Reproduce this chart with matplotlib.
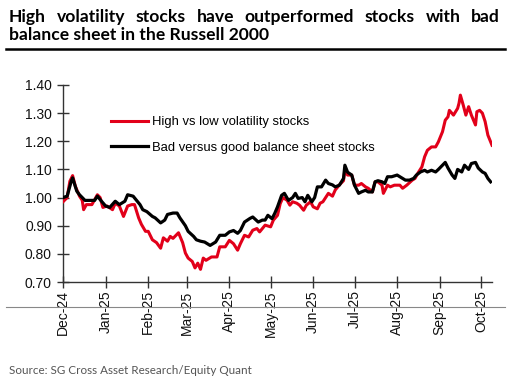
import matplotlib
matplotlib.use("Agg")
import matplotlib.pyplot as plt
import matplotlib.dates as mdates
import pandas as pd
from matplotlib.lines import Line2D

title_line1 = "High volatility stocks have outperformed stocks with bad"
title_line2 = "balance sheet in the Russell 2000"
source_text = "Source: SG Cross Asset Research/Equity Quant"
label_red = "High vs low volatility stocks"
label_black = "Bad versus good balance sheet stocks"

red_dates = ["2024-12-01", "2024-12-04", "2024-12-06", "2024-12-08", "2024-12-10", "2024-12-13",
             "2024-12-15", "2024-12-16", "2024-12-18", "2024-12-22", "2024-12-26", "2024-12-28",
             "2024-12-30", "2025-01-02", "2025-01-06", "2025-01-08", "2025-01-11", "2025-01-14",
             "2025-01-17", "2025-01-20", "2025-01-22", "2025-01-25", "2025-01-27", "2025-01-30",
             "2025-02-01", "2025-02-04", "2025-02-07", "2025-02-10", "2025-02-12", "2025-02-15",
             "2025-02-17", "2025-02-19", "2025-02-23", "2025-02-26", "2025-02-28", "2025-03-02",
             "2025-03-05", "2025-03-07", "2025-03-09", "2025-03-11", "2025-03-13", "2025-03-15",
             "2025-03-19", "2025-03-23", "2025-03-25", "2025-03-29", "2025-04-01", "2025-04-04",
             "2025-04-07", "2025-04-09", "2025-04-12", "2025-04-15", "2025-04-18", "2025-04-21",
             "2025-04-23", "2025-04-27", "2025-05-01", "2025-05-03", "2025-05-06", "2025-05-08",
             "2025-05-10", "2025-05-13", "2025-05-15", "2025-05-17", "2025-05-20", "2025-05-22",
             "2025-05-25", "2025-05-27", "2025-05-30", "2025-06-01", "2025-06-04", "2025-06-06",
             "2025-06-08", "2025-06-12", "2025-06-15", "2025-06-17", "2025-06-20", "2025-06-23",
             "2025-06-24", "2025-06-26", "2025-06-29", "2025-07-01", "2025-07-04", "2025-07-06",
             "2025-07-09", "2025-07-11", "2025-07-14", "2025-07-16", "2025-07-18", "2025-07-21",
             "2025-07-22", "2025-07-25", "2025-07-27", "2025-07-30", "2025-08-03", "2025-08-05",
             "2025-08-08", "2025-08-12", "2025-08-14", "2025-08-16", "2025-08-19", "2025-08-21",
             "2025-08-23", "2025-08-26", "2025-08-29", "2025-08-31", "2025-09-03", "2025-09-05",
             "2025-09-07", "2025-09-08", "2025-09-11", "2025-09-14", "2025-09-15", "2025-09-16",
             "2025-09-18", "2025-09-20", "2025-09-22", "2025-09-24", "2025-09-27", "2025-09-28",
             "2025-09-30", "2025-10-02", "2025-10-04", "2025-10-06", "2025-10-07", "2025-10-09"]
red_values = [0.985, 1.000, 1.058, 1.078, 1.040, 1.005,
              0.990, 0.957, 0.975, 0.975, 1.010, 1.000,
              0.965, 0.970, 0.957, 0.980, 0.970, 0.933,
              0.970, 0.975, 0.975, 0.928, 0.905, 0.880,
              0.880, 0.850, 0.840, 0.820, 0.857, 0.845,
              0.862, 0.855, 0.875, 0.840, 0.803, 0.785,
              0.773, 0.750, 0.767, 0.745, 0.785, 0.777,
              0.789, 0.789, 0.825, 0.825, 0.848, 0.836,
              0.813, 0.836, 0.866, 0.860, 0.884, 0.890,
              0.878, 0.902, 0.896, 0.920, 0.937, 0.979,
              1.000, 0.990, 0.973, 0.985, 0.980, 0.973,
              0.955, 0.973, 0.985, 0.967, 0.960, 0.980,
              0.985, 1.015, 1.005, 1.027, 1.045, 1.060,
              1.097, 1.080, 1.080, 1.044, 1.044, 1.050,
              1.038, 1.033, 1.020, 1.056, 1.056, 1.044,
              1.015, 1.044, 1.038, 1.044, 1.044, 1.033,
              1.044, 1.062, 1.068, 1.086, 1.109, 1.145,
              1.168, 1.180, 1.180, 1.198, 1.234, 1.275,
              1.287, 1.310, 1.293, 1.317, 1.335, 1.364,
              1.330, 1.293, 1.323, 1.293, 1.258, 1.305,
              1.310, 1.300, 1.270, 1.222, 1.210, 1.186]

black_dates = ["2024-12-01", "2024-12-04", "2024-12-07", "2024-12-08", "2024-12-11", "2024-12-13",
               "2024-12-17", "2024-12-21", "2024-12-24", "2024-12-26", "2024-12-29", "2025-01-01",
               "2025-01-04", "2025-01-08", "2025-01-11", "2025-01-15", "2025-01-17", "2025-01-21",
               "2025-01-24", "2025-01-26", "2025-01-28", "2025-01-31", "2025-02-04", "2025-02-06",
               "2025-02-10", "2025-02-13", "2025-02-15", "2025-02-19", "2025-02-22", "2025-02-24",
               "2025-02-28", "2025-03-02", "2025-03-06", "2025-03-08", "2025-03-11", "2025-03-14",
               "2025-03-18", "2025-03-22", "2025-03-25", "2025-03-29", "2025-04-01", "2025-04-04",
               "2025-04-07", "2025-04-09", "2025-04-12", "2025-04-16", "2025-04-18", "2025-04-22",
               "2025-04-25", "2025-04-27", "2025-04-29", "2025-05-02", "2025-05-04", "2025-05-06",
               "2025-05-09", "2025-05-11", "2025-05-14", "2025-05-17", "2025-05-19", "2025-05-21",
               "2025-05-24", "2025-05-26", "2025-05-28", "2025-05-31", "2025-06-02", "2025-06-04",
               "2025-06-07", "2025-06-10", "2025-06-12", "2025-06-15", "2025-06-17", "2025-06-20",
               "2025-06-23", "2025-06-24", "2025-06-26", "2025-06-29", "2025-07-01", "2025-07-04",
               "2025-07-06", "2025-07-09", "2025-07-11", "2025-07-14", "2025-07-16", "2025-07-18",
               "2025-07-21", "2025-07-23", "2025-07-25", "2025-07-28", "2025-08-01", "2025-08-05",
               "2025-08-07", "2025-08-10", "2025-08-13", "2025-08-15", "2025-08-18", "2025-08-21",
               "2025-08-23", "2025-08-26", "2025-08-29", "2025-08-31", "2025-09-03", "2025-09-05",
               "2025-09-07", "2025-09-10", "2025-09-12", "2025-09-14", "2025-09-17", "2025-09-19",
               "2025-09-22", "2025-09-24", "2025-09-27", "2025-09-29", "2025-10-02", "2025-10-04",
               "2025-10-06", "2025-10-08"]
black_values = [1.000, 1.005, 1.058, 1.070, 1.023, 1.010,
                0.990, 0.990, 0.990, 1.005, 0.987, 0.970,
                0.965, 0.987, 0.975, 0.987, 1.010, 1.005,
                0.987, 0.975, 0.957, 0.950, 0.933, 0.928,
                0.910, 0.920, 0.940, 0.945, 0.945, 0.928,
                0.900, 0.880, 0.862, 0.850, 0.845, 0.842,
                0.830, 0.842, 0.866, 0.866, 0.878, 0.883,
                0.873, 0.883, 0.913, 0.926, 0.931, 0.913,
                0.920, 0.920, 0.937, 0.925, 0.944, 0.967,
                1.008, 1.015, 0.990, 1.000, 1.015, 0.997,
                1.000, 0.985, 1.008, 0.985, 1.000, 1.038,
                1.038, 1.062, 1.050, 1.045, 1.038, 1.044,
                1.068, 1.115, 1.090, 1.080, 1.044, 1.015,
                1.020, 1.026, 1.020, 1.020, 1.056, 1.060,
                1.056, 1.050, 1.074, 1.074, 1.080, 1.068,
                1.062, 1.062, 1.068, 1.080, 1.091, 1.097,
                1.091, 1.097, 1.091, 1.100, 1.115, 1.125,
                1.105, 1.080, 1.068, 1.100, 1.091, 1.115,
                1.100, 1.121, 1.125, 1.105, 1.091, 1.086,
                1.068, 1.056]

tick_months = ["2024-12-01", "2025-01-01", "2025-02-01", "2025-03-01", "2025-04-01", "2025-05-01",
               "2025-06-01", "2025-07-01", "2025-08-01", "2025-09-01", "2025-10-01"]
y_ticks = [0.70, 0.80, 0.90, 1.00, 1.10, 1.20, 1.30, 1.40]

RED = "#E2001A"
W, H = 511, 384
fig = plt.figure(figsize=(W / 100, H / 100), dpi=100)
ax = fig.add_axes([63 / W, 1 - 282 / H, (492 - 63) / W, (282 - 85) / H])

ax.plot(pd.to_datetime(red_dates), red_values, color=RED, lw=2.2, label=label_red, zorder=3)
ax.plot(pd.to_datetime(black_dates), black_values, color="black", lw=2.3, label=label_black, zorder=3)

ax.set_ylim(0.70, 1.40)
ax.set_yticks(y_ticks)
ax.set_yticklabels([f"{v:.2f}" for v in y_ticks], fontsize=10, family="Liberation Sans")
ax.set_xlim(pd.Timestamp("2024-12-01"), pd.Timestamp("2025-10-09"))
ticks = pd.to_datetime(tick_months)
ax.set_xticks(ticks)
ax.set_xticklabels([t.strftime("%b-%y") for t in ticks], rotation=90, fontsize=10,
                   family="Liberation Sans")
for s in ["top", "right"]:
    ax.spines[s].set_visible(False)
for s in ["left", "bottom"]:
    ax.spines[s].set_color("#333333")
    ax.spines[s].set_linewidth(1.0)
ax.tick_params(axis="both", direction="inout", length=8, width=1.0, color="#333333", labelcolor="#111111")
ax.tick_params(axis="y", pad=4)
ax.tick_params(axis="x", pad=2)

leg = ax.legend(loc="upper left", bbox_to_anchor=((111 - 63) / (492 - 63), (282 - 116) / (282 - 85)),
                frameon=False, handlelength=2.8, handletextpad=0.35,
                labelspacing=1.05, borderpad=0, borderaxespad=0,
                prop={"family": "Liberation Sans", "size": 9.4})

# Title (justified first line)
fig.canvas.draw()
renderer = fig.canvas.get_renderer()
tfont = dict(family="Lato", weight="bold", size=12.6, color="black")
words = title_line1.split()
objs = [fig.text(0, 1 - 22 / H, w, ha="left", va="baseline", **tfont) for w in words]
widths = [o.get_window_extent(renderer).width for o in objs]
x0, x1 = 9.0, 500.0
gap = (x1 - x0 - sum(widths)) / (len(words) - 1)
xp = x0
for o, wdt in zip(objs, widths):
    o.set_x(xp / W)
    xp += wdt + gap
fig.text(x0 / W, 1 - 40 / H, title_line2, ha="left", va="baseline", **tfont)

fig.add_artist(Line2D([6 / W, 505 / W], [1 - 49 / H, 1 - 49 / H], color="black", lw=1.8))
fig.add_artist(Line2D([6 / W, 505 / W], [1 - 307 / H, 1 - 307 / H], color="#888888", lw=0.8))
fig.text(9 / W, 1 - 370 / H, source_text, ha="left", va="center", family="Lato",
         size=8.4, color="#555555")

fig.savefig("out.png", dpi=100)
